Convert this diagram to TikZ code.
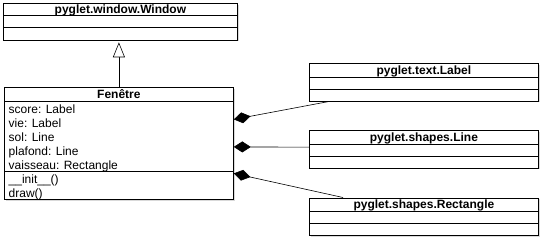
\documentclass[tikz,border=0pt]{standalone}
\usepackage{fontspec}
\setmainfont{Liberation Sans}
\usetikzlibrary{positioning,calc,arrows.meta,shadows}

\begin{document}
\begin{tikzpicture}[x=1pt, y=-1pt,
  classbox/.style={draw, fill=white, line width=0.8pt, inner sep=0pt, anchor=north west,
    drop shadow={shadow xshift=1.2pt, shadow yshift=-1.2pt, opacity=0.3}},
  classname/.style={anchor=base, inner sep=0pt, font=\fontsize{12}{14}\selectfont\bfseries},
  member/.style={anchor=base west, inner sep=0pt, font=\fontsize{12}{14}\selectfont},
  rule/.style={line width=0.8pt},
  compose/.style={line width=0.6pt, {Diamond[length=17pt, width=11pt]}-},
  inherit/.style={line width=0.6pt, -{Triangle[open, length=15pt, width=12pt, fill=white]}, shorten >=2pt}]

  \useasboundingbox (0,0) rectangle (543,241);

  % Superclass
  \node[classbox, minimum width=234pt, minimum height=36.5pt] (window) at (3,3) {};
  \node[classname] at ($(window.north)+(0,10)$) {pyglet.window.Window};
  \foreach \dy in {12,24.5}
    \draw[rule] ($(window.north west)+(0,\dy)$) -- ($(window.north east)+(0,\dy)$);

  % Main class
  \node[classbox, minimum width=229pt, minimum height=112pt] (fen) at (4,87) {};
  \node[classname] at ($(fen.north)+(0,11)$) {Fenêtre};
  \foreach \dy in {14,84}
    \draw[rule] ($(fen.north west)+(0,\dy)$) -- ($(fen.north east)+(0,\dy)$);
  \foreach \i/\txt in {0/score: Label, 1/vie: Label, 2/sol: Line, 3/plafond: Line,
      4/vaisseau: Rectangle, 5/\_\_init\_\_(), 6/draw()}
    \node[member] at ($(fen.north west)+(4.5,{26+14*\i})$) {\txt};

  % 3 composed classes
  \foreach \name/\title/\ypos in {
    label/pyglet.text.Label/63,
    line/pyglet.shapes.Line/130,
    rect/pyglet.shapes.Rectangle/197.5
  } {
    \node[classbox, minimum width=229pt, minimum height=37.5pt] (\name) at (309,\ypos) {};
    \node[classname] at ($(\name.north)+(0,11)$) {\title};
    \foreach \dy in {14,26}
      \draw[rule] ($(\name.north west)+(0,\dy)$) -- ($(\name.north east)+(0,\dy)$);
  }

  % Compositions
  \draw[compose] ([yshift=24pt]fen.east) -- ([xshift=21pt]label.south west);
  \draw[compose] ([yshift=-3.5pt]fen.east) -- ([yshift=2pt]line.west);
  \draw[compose] ([yshift=-30pt]fen.east) -- ([xshift=34pt]rect.north west);

  % Inheritance
  \draw[inherit] (fen.north) -- (fen.north |- window.south);
\end{tikzpicture}
\end{document}
